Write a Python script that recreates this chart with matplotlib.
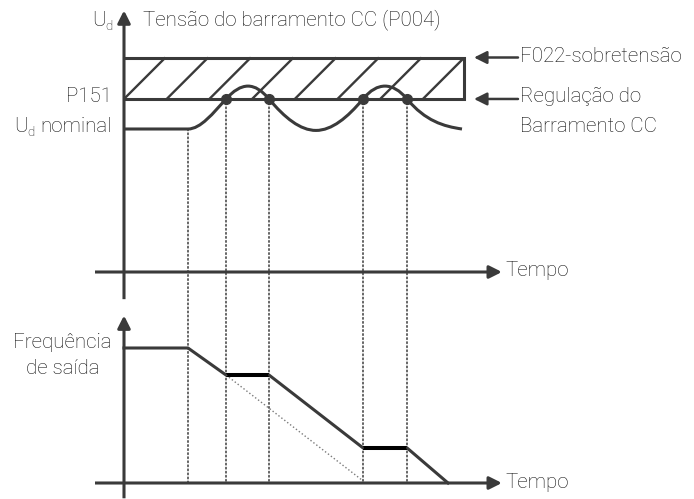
import matplotlib
matplotlib.use("Agg")
import matplotlib.pyplot as plt
from matplotlib.path import Path
from matplotlib.patches import PathPatch, ConnectionPatch

# ---------------- data ----------------
event_t = [6.4, 10.2, 14.5, 23.9, 28.3]          # instants marked by dotted lines
ud_nominal = 100.0                               # % of nominal DC bus voltage
p151_level = 121.0                               # DC bus regulation level
f022_level = 150.0                               # overvoltage trip level
rect_end_t = 34.0

# DC bus voltage curve knots (time, level, slope)
ud_knot_t = [0.0, 6.4, 10.2, 12.4, 14.5, 19.2, 23.9, 26.1, 28.3, 33.8]
ud_knot_v = [100, 100, 121, 130, 121, 99, 121, 130, 121, 100]
ud_knot_s = [0, 0, 7.7, 0, -8.4, 0, 8.4, 0, -8.4, -1.0]
dot_t = [10.2, 14.5, 23.9, 28.3]

# output frequency
freq_t = [0.0, 6.4, 10.2, 14.5, 23.9, 28.3, 32.4]
freq_v = [60, 60, 48, 48, 15.6, 15.6, 0]
ref_t = [10.2, 23.8]
ref_v = [48, 1.3]

# ---------------- style ----------------
plt.rcParams["font.family"] = ["Roboto", "DejaVu Sans"]
C = "#3a3a3a"
LW = 2.2
FS = 14.8
W, H = 694, 499

fig = plt.figure(figsize=(W / 100, H / 100), dpi=100)

# axes geometry (pixels)
x_lo, x_hi = -3.0, 38.0
px_x0, px_x1 = 94, 504
top_ylim = (-20, 185)
top_ppu = 1.43
top_zero = 272
bot_ylim = (-7, 76)
bot_ppu = 2.25
bot_zero = 483


def axes_rect(zero, ppu, ylim):
    pb = zero - ylim[0] * ppu
    pt = zero - ylim[1] * ppu
    return [px_x0 / W, 1 - pb / H, (px_x1 - px_x0) / W, (pb - pt) / H]


ax1 = fig.add_axes(axes_rect(top_zero, top_ppu, top_ylim))
ax2 = fig.add_axes(axes_rect(bot_zero, bot_ppu, bot_ylim))
for ax, yl in ((ax1, top_ylim), (ax2, bot_ylim)):
    ax.set_xlim(x_lo, x_hi)
    ax.set_ylim(*yl)
    ax.axis("off")

arrow_kw = dict(arrowstyle="-|>", lw=LW, color=C, mutation_scale=19,
                shrinkA=0, shrinkB=0, capstyle="butt")

# axes arrows
ax1.annotate("", xy=(0, 183), xytext=(0, -19), arrowprops=arrow_kw, annotation_clip=False)
ax1.annotate("", xy=(37.8, 0), xytext=(-2.9, 0), arrowprops=arrow_kw, annotation_clip=False)
ax2.annotate("", xy=(0, 74.5), xytext=(0, -6.8), arrowprops=arrow_kw, annotation_clip=False)
ax2.annotate("", xy=(37.8, 0), xytext=(-2.9, 0), arrowprops=arrow_kw, annotation_clip=False)

# hatched band between P151 and F022
band_h_px = (f022_level - p151_level) * top_ppu
dt_climb = band_h_px / 10.0
spacing = 4.27
k = 0
while k * spacing < rect_end_t:
    t0 = k * spacing
    t1 = t0 + dt_climb
    v1 = f022_level
    if t1 > rect_end_t:
        v1 = p151_level + (f022_level - p151_level) * (rect_end_t - t0) / dt_climb
        t1 = rect_end_t
    ax1.plot([t0, t1], [p151_level, v1], color=C, lw=1.7, solid_capstyle="butt", clip_on=False)
    k += 1
ax1.plot([0, rect_end_t, rect_end_t, 0], [f022_level, f022_level, p151_level, p151_level],
         color=C, lw=LW, solid_joinstyle="miter", clip_on=False)

# DC bus voltage curve (cubic Hermite segments drawn as Bezier paths)
verts = [(ud_knot_t[0], ud_knot_v[0])]
codes = [Path.MOVETO]
for i in range(len(ud_knot_t) - 1):
    t0, t1 = ud_knot_t[i], ud_knot_t[i + 1]
    v0, v1 = ud_knot_v[i], ud_knot_v[i + 1]
    s0, s1 = ud_knot_s[i], ud_knot_s[i + 1]
    d = (t1 - t0) / 3.0
    verts += [(t0 + d, v0 + s0 * d), (t1 - d, v1 - s1 * d), (t1, v1)]
    codes += [Path.CURVE4] * 3
ax1.add_patch(PathPatch(Path(verts, codes), fill=False, lw=LW, edgecolor=C,
                        capstyle="butt", clip_on=False))
ax1.plot(dot_t, [p151_level] * len(dot_t), "o", color=C, ms=7, clip_on=False)

# dotted event lines spanning both panels
for i, t in enumerate(event_t):
    v_start = ud_nominal if i == 0 else p151_level
    cp = ConnectionPatch(xyA=(t, v_start), coordsA=ax1.transData,
                         xyB=(t, 0), coordsB=ax2.transData,
                         color=C, lw=1.1, linestyle=":")
    fig.add_artist(cp)

# frequency curve
ax2.plot(freq_t, freq_v, color=C, lw=LW, solid_joinstyle="round", clip_on=False)
for i in range(1, len(freq_t) - 1):
    if freq_v[i] == freq_v[i + 1]:
        ax2.plot(freq_t[i:i + 2], freq_v[i:i + 2], color="black", lw=2.9,
                 solid_capstyle="butt", clip_on=False)
ax2.plot(ref_t, ref_v, color="#7a7a7a", lw=1.0, linestyle=":", clip_on=False)

# side arrows
side_kw = dict(arrowstyle="-|>", lw=1.8, color=C, mutation_scale=19, shrinkA=0, shrinkB=0)
ax1.annotate("", xy=(35.0, f022_level), xytext=(39.4, f022_level), arrowprops=side_kw,
             annotation_clip=False)
ax1.annotate("", xy=(35.0, p151_level), xytext=(39.4, p151_level), arrowprops=side_kw,
             annotation_clip=False)


# ---------------- text ----------------
def ftext(x, y, s, ha="left", va="center", size=FS):
    fig.text(x / W, 1 - y / H, s, ha=ha, va=va, fontsize=size, color="#111111",
             fontweight="light")


ftext(92, 20, "U")
ftext(105, 27, "d", size=9.5)
ftext(143, 20, "Tensão do barramento CC (P004)")
ftext(520, 57, "F022-sobretensão")
ftext(520, 97, "Regulação do")
ftext(520, 126, "Barramento CC")
ftext(112, 97, "P151", ha="right")
ftext(112, 127, "nominal", ha="right")
ftext(14, 127, "U")
ftext(27, 133, "d", size=9.5)
ftext(505, 271, "Tempo")
ftext(505, 482, "Tempo")
ftext(62.5, 342, "Frequência", ha="center")
ftext(62.5, 369, "de saída", ha="center")

fig.savefig("out.png", dpi=100)
